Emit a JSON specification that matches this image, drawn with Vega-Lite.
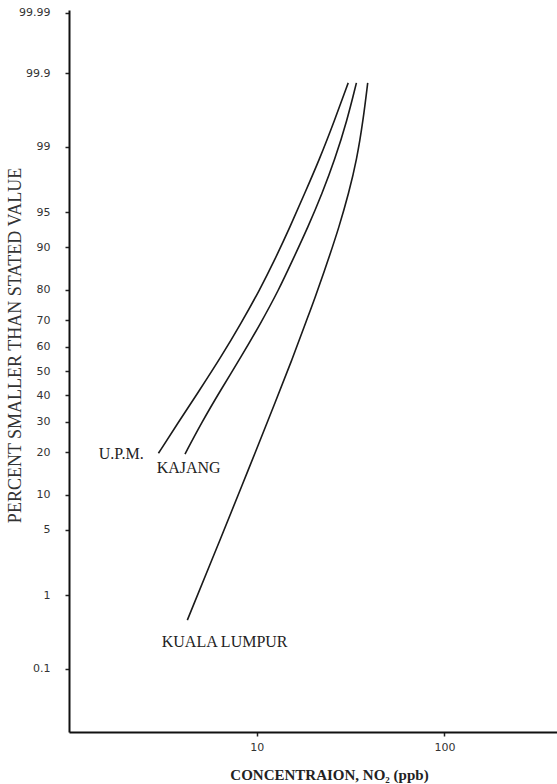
{
  "$schema": "https://vega.github.io/schema/vega-lite/v6.json",
  "width": 488,
  "height": 722,
  "autosize": {"type": "none"},
  "padding": {"left": 69, "top": 10, "right": 0, "bottom": 52},
  "background": "white",
  "config": {"view": {"stroke": null}, "axis": {"grid": false}},
  "datasets": {
    "curves": [
      {"site": "U.P.M.", "conc": 2.995, "percent": 19.66},
      {"site": "U.P.M.", "conc": 3.794, "percent": 29.36},
      {"site": "U.P.M.", "conc": 4.97, "percent": 42.2},
      {"site": "U.P.M.", "conc": 6.47, "percent": 55.9},
      {"site": "U.P.M.", "conc": 8.25, "percent": 68.97},
      {"site": "U.P.M.", "conc": 10.37, "percent": 79.98},
      {"site": "U.P.M.", "conc": 12.47, "percent": 87.53},
      {"site": "U.P.M.", "conc": 15.08, "percent": 93.29},
      {"site": "U.P.M.", "conc": 18.02, "percent": 96.74},
      {"site": "U.P.M.", "conc": 21.53, "percent": 98.57},
      {"site": "U.P.M.", "conc": 26.04, "percent": 99.54},
      {"site": "U.P.M.", "conc": 30.73, "percent": 99.86},
      {"site": "KAJANG", "conc": 4.15, "percent": 19.45},
      {"site": "KAJANG", "conc": 5.06, "percent": 29.36},
      {"site": "KAJANG", "conc": 6.43, "percent": 42.2},
      {"site": "KAJANG", "conc": 8.27, "percent": 55.9},
      {"site": "KAJANG", "conc": 10.5, "percent": 68.97},
      {"site": "KAJANG", "conc": 13.1, "percent": 79.98},
      {"site": "KAJANG", "conc": 15.55, "percent": 87.53},
      {"site": "KAJANG", "conc": 18.81, "percent": 93.29},
      {"site": "KAJANG", "conc": 22.34, "percent": 96.74},
      {"site": "KAJANG", "conc": 26.04, "percent": 98.57},
      {"site": "KAJANG", "conc": 30.36, "percent": 99.54},
      {"site": "KAJANG", "conc": 33.98, "percent": 99.86},
      {"site": "KUALA LUMPUR", "conc": 4.27, "percent": 0.488},
      {"site": "KUALA LUMPUR", "conc": 6.59, "percent": 4.6},
      {"site": "KUALA LUMPUR", "conc": 8.58, "percent": 12.9},
      {"site": "KUALA LUMPUR", "conc": 9.545, "percent": 18.25},
      {"site": "KUALA LUMPUR", "conc": 12.7, "percent": 38.2},
      {"site": "KUALA LUMPUR", "conc": 15.4, "percent": 54.5},
      {"site": "KUALA LUMPUR", "conc": 18.47, "percent": 70.2},
      {"site": "KUALA LUMPUR", "conc": 20.25, "percent": 76.9},
      {"site": "KUALA LUMPUR", "conc": 24.04, "percent": 87.53},
      {"site": "KUALA LUMPUR", "conc": 27.51, "percent": 93.29},
      {"site": "KUALA LUMPUR", "conc": 30.91, "percent": 96.74},
      {"site": "KUALA LUMPUR", "conc": 34.11, "percent": 98.57},
      {"site": "KUALA LUMPUR", "conc": 36.93, "percent": 99.54},
      {"site": "KUALA LUMPUR", "conc": 39.03, "percent": 99.86}
    ],
    "labels": [
      {"label": "U.P.M.", "conc": 1.44, "percent": 19.6},
      {"label": "KAJANG", "conc": 2.93, "percent": 15.7},
      {"label": "KUALA LUMPUR", "conc": 3.12, "percent": 0.248}
    ]
  },
  "layer": [
    {
      "data": {"name": "curves"},
      "transform": [{"calculate": "quantileNormal(datum.percent/100)", "as": "z"}],
      "mark": {"type": "line", "interpolate": "basis", "color": "#1a1a1a", "strokeWidth": 1.6},
      "encoding": {
        "x": {
          "field": "conc", "type": "quantitative",
          "scale": {"type": "log", "domain": [1, 398], "nice": false},
          "axis": {
            "values": [10, 100], "format": "d",
            "title": "CONCENTRAION, NO₂ (ppb)",
            "titleFont": "Liberation Serif", "titleFontSize": 15, "titleFontWeight": "bold", "titleColor": "#222",
            "titleX": 260, "titleY": 42, "titleBaseline": "middle", "titleAlign": "center",
            "labelFont": "DejaVu Sans", "labelFontSize": 11, "labelColor": "#333", "labelPadding": 5,
            "tickSize": 4, "tickColor": "#222", "tickWidth": 1.5,
            "domainColor": "#111", "domainWidth": 2, "grid": false
          }
        },
        "y": {
          "field": "z", "type": "quantitative",
          "scale": {"domain": [-3.745, 3.745], "nice": false, "zero": false},
          "axis": {
            "values": [3.71902, 3.09023, 2.32635, 1.64485, 1.28155, 0.84162, 0.5244, 0.25335, 0, -0.25335, -0.5244, -0.84162, -1.28155, -1.64485, -2.32635, -3.09023],
            "labelExpr": "format(cumulativeNormal(datum.value)*100, '.4~r')",
            "labelOverlap": false, "labelPadding": 15,
            "labelFont": "DejaVu Sans", "labelFontSize": 11, "labelColor": "#333",
            "tickSize": 4, "tickColor": "#222", "tickWidth": 1.5,
            "domainColor": "#111", "domainWidth": 2, "grid": false,
            "title": "PERCENT SMALLER THAN STATED VALUE",
            "titleFont": "Liberation Serif", "titleFontSize": 18, "titleFontWeight": "normal", "titleColor": "#333",
            "titleX": -54, "titleY": 335, "titleAngle": -90, "titleBaseline": "middle", "titleAlign": "center"
          }
        },
        "detail": {"field": "site"}
      }
    },
    {
      "data": {"name": "labels"},
      "transform": [{"calculate": "quantileNormal(datum.percent/100)", "as": "z"}],
      "mark": {"type": "text", "align": "left", "baseline": "middle", "font": "Liberation Serif", "fontSize": 16, "color": "#222"},
      "encoding": {
        "x": {"field": "conc", "type": "quantitative"},
        "y": {"field": "z", "type": "quantitative"},
        "text": {"field": "label"}
      }
    }
  ]
}
